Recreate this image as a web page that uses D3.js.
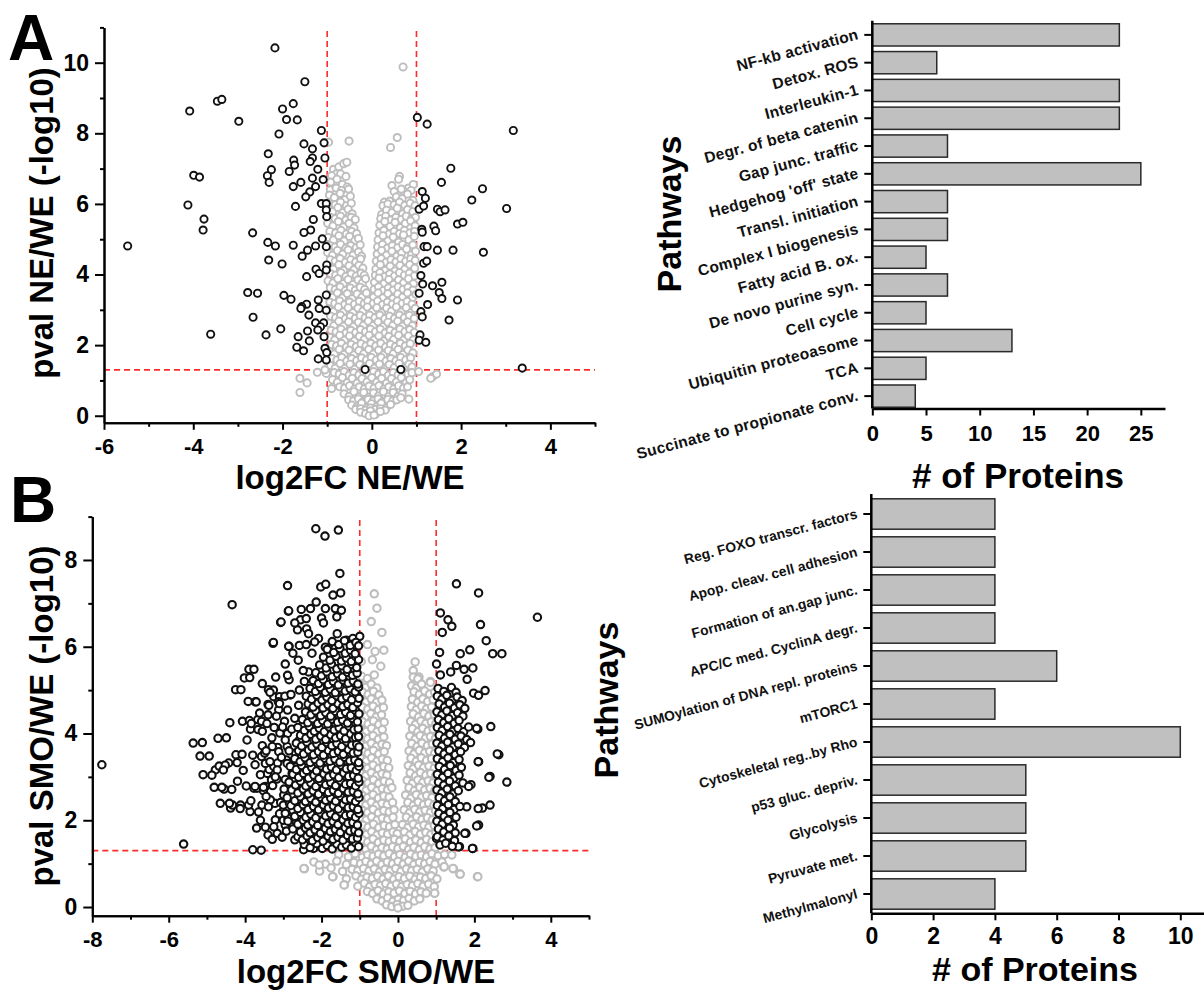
<!DOCTYPE html>
<html><head><meta charset="utf-8">
<script src="https://cdn.jsdelivr.net/npm/d3@7"></script>
<style>body{margin:0;background:#fff}svg{display:block}</style>
</head><body><svg id="c" width="1204" height="991"></svg>
<script>
// ---------- DATA ----------
const pThreshold = 1.30;   // -log10(0.05)
const fcThresholds = [-1, 1];

// Panel A volcano (log2FC NE/WE, -log10 p)
const aXTicks = [-6,-4,-2,0,2,4];
const aXMinor = [-5,-3,-1,1,3,5];
const aYTicks = [0,2,4,6,8,10];
const aYMinor = [1,3,5,7,9,11];
const aBlack = [[-2.17,10.42],[-1.50,9.46],[-3.46,8.91],[-3.36,8.96],[-4.08,8.63],[-2.98,8.34],[-2.00,8.69],[-1.76,8.84],[-1.91,8.39],[-1.67,8.38],[-1.13,8.08],[-2.08,7.98],[-1.07,7.73],[-1.52,7.70],[-1.33,7.56],[-2.32,7.42],[-1.75,7.24],[-1.05,7.30],[-1.33,7.30],[-1.38,7.20],[-1.73,7.10],[-1.21,6.98],[-1.85,6.92],[-2.25,6.97],[-2.34,6.80],[-2.30,6.61],[-3.99,6.81],[-3.86,6.76],[-1.09,6.69],[-1.33,6.73],[-1.59,6.61],[-1.76,6.49],[-1.26,6.49],[-1.39,6.34],[-1.48,6.20],[-4.12,5.97],[-1.71,5.93],[-1.13,6.01],[-1.02,6.01],[-1.02,5.83],[-3.76,5.57],[-3.78,5.26],[-1.31,5.56],[-1.01,5.64],[-2.67,5.18],[-1.37,5.26],[-1.52,5.19],[-1.11,5.01],[-2.33,4.91],[-2.16,4.81],[-1.76,4.83],[-1.26,4.81],[-1.02,4.79],[-1.44,4.69],[-1.56,4.52],[-5.47,4.81],[-2.31,4.41],[-2.01,4.30],[-1.01,4.27],[-1.25,4.15],[-1.18,4.03],[-1.02,4.13],[-1.46,3.94],[-2.78,3.49],[-2.56,3.47],[-1.97,3.41],[-1.81,3.30],[-1.02,3.42],[-1.20,3.28],[-1.46,3.16],[-1.57,3.09],[-1.59,3.04],[-1.18,3.04],[-1.02,2.99],[-1.41,2.85],[-2.66,2.79],[-1.26,2.63],[-1.08,2.63],[-1.15,2.52],[-1.21,2.43],[-2.04,2.46],[-3.61,2.31],[-2.37,2.29],[-1.65,2.24],[-1.44,2.40],[-1.40,2.12],[-1.07,2.24],[-1.68,1.94],[-1.53,1.84],[-1.05,1.91],[-1.01,1.79],[-1.20,1.61],[-1.02,1.58],[-0.15,1.31],[0.65,1.31],
[1.02,8.45],[1.24,8.26],[3.17,8.08],[1.77,7.01],[1.56,6.61],[2.48,6.43],[1.13,6.35],[1.20,6.16],[2.24,6.11],[1.06,5.85],[1.16,5.94],[1.47,5.85],[1.53,5.78],[1.64,5.83],[3.02,5.87],[1.92,5.43],[2.04,5.48],[1.12,5.28],[1.13,5.20],[1.39,5.37],[1.43,5.24],[1.17,4.79],[1.24,4.79],[1.47,4.69],[1.82,4.69],[2.50,4.63],[1.16,4.32],[1.23,4.38],[1.10,3.97],[1.14,3.73],[1.36,3.68],[1.57,3.78],[1.51,3.49],[1.57,3.32],[1.06,3.47],[1.92,3.28],[1.25,3.15],[1.10,2.95],[1.13,2.80],[1.73,2.71],[1.08,2.29],[1.06,2.14],[1.21,2.08],[3.37,1.35]];
const aGrey = [[0.70,9.88],[-0.51,7.78],[0.57,7.88],[0.42,7.60],[-0.97,7.75],
[-0.86,6.98],[-0.74,7.05],[-0.63,7.14],[-0.56,7.18],[-0.80,6.85],[-0.90,6.80],[-0.70,6.85],[-0.58,6.78],[0.62,6.78],
[-0.92,6.62],[-0.78,6.70],[-0.66,6.55],[-0.55,6.48],[0.45,6.52],[0.60,6.70],[0.82,6.45],[0.93,6.55],[0.72,6.35],
[-0.93,6.40],[-0.80,6.45],[-0.68,6.38],[-0.52,6.42],[0.50,6.35],[0.66,6.42],[0.88,6.38],
[-0.95,6.25],[-0.84,6.18],[-0.71,6.30],[-0.60,6.12],[-0.48,6.22],[0.28,6.05],[0.40,6.08],[0.55,6.20],[0.68,6.15],[0.80,6.28],[0.92,6.10],
[-0.96,6.02],[-0.82,5.98],[-0.70,6.05],[-0.57,5.95],[-0.46,6.02],[0.25,5.95],[0.36,6.00],[0.50,5.98],[0.62,6.05],[0.74,5.96],[0.86,6.02],[0.97,5.95],
[-0.98,5.85],[-0.88,5.78],[-0.76,5.90],[-0.65,5.75],[-0.53,5.85],[-0.44,5.72],[0.22,5.70],[0.33,5.82],[0.45,5.75],[0.57,5.88],[0.69,5.72],[0.80,5.84],[0.92,5.78],
[-0.93,5.62],[-0.82,5.58],[-0.70,5.65],[-0.58,5.55],[-0.46,5.62],[-0.37,5.56],[0.20,5.58],[0.31,5.65],[0.43,5.55],[0.54,5.62],[0.66,5.56],[0.77,5.65],[0.89,5.58],[0.98,5.62],
[-0.99,5.45],[-0.87,5.38],[-0.75,5.50],[-0.63,5.35],[-0.51,5.45],[-0.40,5.32],[0.18,5.40],[0.29,5.50],[0.41,5.36],[0.52,5.48],[0.64,5.33],[0.75,5.45],[0.87,5.52],[0.97,5.38],
[-0.94,5.22],[-0.81,5.18],[-0.69,5.25],[-0.57,5.15],[-0.45,5.22],[-0.34,5.16],[0.16,5.18],[0.27,5.25],[0.39,5.15],[0.50,5.22],[0.62,5.16],[0.73,5.25],[0.85,5.18],[0.96,5.22],
[-0.98,5.05],[-0.86,4.98],[-0.74,5.10],[-0.62,4.95],[-0.50,5.08],[-0.38,4.96],[-0.30,5.02],[0.14,4.98],[0.25,5.10],[0.36,4.95],[0.48,5.06],[0.60,4.92],[0.71,5.12],[0.83,4.98],[0.95,5.08],
[-0.94,4.82],[-0.82,4.78],[-0.70,4.85],[-0.58,4.75],[-0.47,4.82],[-0.35,4.76],[-0.26,4.84],[0.13,4.78],[0.24,4.85],[0.35,4.75],[0.46,4.82],[0.58,4.76],[0.69,4.85],[0.80,4.78],[0.92,4.84],
[-0.99,4.62],[-0.88,4.55],[-0.77,4.68],[-0.65,4.58],[-0.53,4.70],[-0.42,4.55],[-0.30,4.64],[-0.23,4.52],[0.12,4.58],[0.22,4.68],[0.33,4.55],[0.45,4.66],[0.56,4.52],[0.67,4.62],[0.78,4.72],[0.89,4.56],[0.98,4.66],
[-0.93,4.42],[-0.82,4.38],[-0.71,4.45],[-0.59,4.35],[-0.47,4.42],[-0.36,4.36],[-0.25,4.44],[0.10,4.38],[0.21,4.45],[0.32,4.35],[0.43,4.42],[0.54,4.36],[0.65,4.45],[0.76,4.38],[0.87,4.44],[0.97,4.40],
[-0.97,4.22],[-0.86,4.15],[-0.74,4.28],[-0.63,4.12],[-0.51,4.25],[-0.40,4.14],[-0.29,4.26],[-0.20,4.18],[0.09,4.15],[0.19,4.28],[0.30,4.12],[0.41,4.24],[0.52,4.10],[0.63,4.26],[0.74,4.15],[0.85,4.28],[0.96,4.18],
[-0.92,4.02],[-0.81,3.98],[-0.69,4.05],[-0.58,3.95],[-0.46,4.02],[-0.35,3.96],[-0.24,4.04],[-0.17,3.98],[0.08,3.98],[0.18,4.05],[0.29,3.95],[0.40,4.02],[0.51,3.96],[0.62,4.05],[0.73,3.98],[0.84,4.04],[0.95,3.96],
[-0.98,3.82],[-0.87,3.76],[-0.76,3.88],[-0.64,3.74],[-0.53,3.86],[-0.42,3.72],[-0.31,3.85],[-0.21,3.76],[-0.14,3.88],[0.06,3.78],[0.16,3.90],[0.27,3.74],[0.38,3.86],[0.49,3.72],[0.60,3.85],[0.71,3.76],[0.82,3.88],[0.93,3.74],
[-0.93,3.62],[-0.82,3.58],[-0.71,3.65],[-0.59,3.55],[-0.48,3.62],[-0.37,3.56],[-0.26,3.64],[-0.16,3.58],[0.05,3.58],[0.15,3.65],[0.26,3.55],[0.37,3.62],[0.48,3.56],[0.59,3.65],[0.70,3.58],[0.81,3.64],[0.92,3.56],
[-0.99,3.42],[-0.88,3.35],[-0.77,3.48],[-0.66,3.34],[-0.55,3.46],[-0.44,3.32],[-0.33,3.45],[-0.22,3.36],[-0.12,3.48],[0.04,3.36],[0.14,3.48],[0.25,3.34],[0.36,3.46],[0.47,3.32],[0.58,3.45],[0.69,3.36],[0.80,3.48],[0.91,3.34],[0.99,3.44],
[-0.94,3.22],[-0.83,3.18],[-0.72,3.25],[-0.61,3.15],[-0.50,3.22],[-0.39,3.16],[-0.28,3.24],[-0.17,3.18],[-0.09,3.25],[0.03,3.18],[0.13,3.25],[0.24,3.15],[0.35,3.22],[0.46,3.16],[0.57,3.25],[0.68,3.18],[0.79,3.24],[0.90,3.16],
[-0.97,3.02],[-0.86,2.95],[-0.75,3.08],[-0.64,2.94],[-0.53,3.06],[-0.42,2.92],[-0.31,3.05],[-0.20,2.96],[-0.10,3.08],[0.01,2.95],[0.11,3.06],[0.22,2.92],[0.33,3.05],[0.44,2.96],[0.55,3.08],[0.66,2.94],[0.77,3.06],[0.88,2.92],[0.97,3.04],
[-0.92,2.82],[-0.81,2.78],[-0.70,2.85],[-0.59,2.75],[-0.48,2.82],[-0.37,2.76],[-0.26,2.84],[-0.15,2.78],[-0.05,2.85],[0.07,2.78],[0.18,2.85],[0.29,2.75],[0.40,2.82],[0.51,2.76],[0.62,2.85],[0.73,2.78],[0.84,2.84],[0.95,2.76],
[-0.96,2.62],[-0.85,2.55],[-0.74,2.68],[-0.63,2.54],[-0.52,2.66],[-0.41,2.52],[-0.30,2.65],[-0.19,2.56],[-0.08,2.68],[0.03,2.55],[0.14,2.66],[0.25,2.52],[0.36,2.65],[0.47,2.56],[0.58,2.68],[0.69,2.54],[0.80,2.66],[0.91,2.55],
[-0.91,2.42],[-0.80,2.38],[-0.69,2.45],[-0.58,2.35],[-0.47,2.42],[-0.36,2.36],[-0.25,2.44],[-0.14,2.38],[-0.03,2.45],[0.08,2.38],[0.19,2.45],[0.30,2.35],[0.41,2.42],[0.52,2.36],[0.63,2.45],[0.74,2.38],[0.85,2.44],[0.95,2.36],
[-0.94,2.22],[-0.83,2.15],[-0.72,2.28],[-0.61,2.14],[-0.50,2.26],[-0.39,2.12],[-0.28,2.25],[-0.17,2.16],[-0.06,2.28],[0.05,2.15],[0.16,2.26],[0.27,2.12],[0.38,2.25],[0.49,2.16],[0.60,2.28],[0.71,2.14],[0.82,2.26],[0.93,2.15],
[-0.90,2.02],[-0.79,1.98],[-0.68,2.05],[-0.57,1.95],[-0.46,2.02],[-0.35,1.96],[-0.24,2.04],[-0.13,1.98],[-0.02,2.05],[0.09,1.98],[0.20,2.05],[0.31,1.95],[0.42,2.02],[0.53,1.96],[0.64,2.05],[0.75,1.98],[0.86,2.04],
[-0.95,1.82],[-0.84,1.75],[-0.73,1.88],[-0.62,1.74],[-0.51,1.86],[-0.40,1.72],[-0.29,1.85],[-0.18,1.76],[-0.07,1.88],[0.04,1.75],[0.15,1.86],[0.26,1.72],[0.37,1.85],[0.48,1.76],[0.59,1.88],[0.70,1.74],[0.81,1.86],[0.92,1.78],
[-0.89,1.62],[-0.78,1.58],[-0.67,1.65],[-0.56,1.55],[-0.45,1.62],[-0.34,1.56],[-0.23,1.64],[-0.12,1.58],[-0.01,1.65],[0.10,1.58],[0.21,1.65],[0.32,1.55],[0.43,1.62],[0.54,1.56],[0.65,1.65],[0.76,1.58],[0.87,1.64],
[-0.93,1.42],[-0.82,1.35],[-0.71,1.48],[-0.60,1.34],[-0.49,1.46],[-0.38,1.32],[-0.27,1.45],[-0.16,1.36],[-0.05,1.48],[0.06,1.35],[0.17,1.46],[0.28,1.32],[0.39,1.45],[0.50,1.36],[0.61,1.48],[0.72,1.34],[0.83,1.46],[0.90,1.38],
[-0.84,1.22],[-0.73,1.18],[-0.62,1.25],[-0.51,1.15],[-0.40,1.22],[-0.29,1.16],[-0.18,1.24],[-0.07,1.18],[0.04,1.25],[0.15,1.18],[0.26,1.25],[0.37,1.15],[0.48,1.22],[0.59,1.16],[0.70,1.25],[0.81,1.18],[0.90,1.22],
[-0.88,1.02],[-0.77,0.95],[-0.66,1.08],[-0.55,0.94],[-0.44,1.06],[-0.33,0.92],[-0.22,1.05],[-0.11,0.96],[0.00,1.08],[0.11,0.95],[0.22,1.06],[0.33,0.92],[0.44,1.05],[0.55,0.96],[0.66,1.08],[0.77,0.94],[0.85,1.02],
[-0.72,0.82],[-0.61,0.78],[-0.50,0.85],[-0.39,0.75],[-0.28,0.82],[-0.17,0.76],[-0.06,0.84],[0.05,0.78],[0.16,0.85],[0.27,0.75],[0.38,0.82],[0.49,0.76],[0.60,0.85],[0.71,0.78],[0.80,0.82],
[-0.62,0.62],[-0.51,0.55],[-0.40,0.68],[-0.29,0.54],[-0.18,0.66],[-0.07,0.52],[0.04,0.65],[0.15,0.56],[0.26,0.68],[0.37,0.54],[0.48,0.66],[0.59,0.55],[0.68,0.62],
[-0.52,0.45],[-0.41,0.42],[-0.30,0.48],[-0.19,0.40],[-0.08,0.46],[0.03,0.42],[0.14,0.48],[0.25,0.40],[0.36,0.46],[0.47,0.42],[0.56,0.45],
[-0.45,0.30],[-0.34,0.24],[-0.23,0.36],[-0.12,0.22],[-0.01,0.34],[0.10,0.25],[0.21,0.36],[0.32,0.22],[0.42,0.32],
[-0.36,0.18],[-0.25,0.20],[-0.14,0.16],[-0.03,0.22],[0.08,0.18],[0.19,0.20],[0.30,0.16],
[-0.25,0.10],[-0.14,0.06],[-0.03,0.14],[0.08,0.04],[0.19,0.12],[-0.06,0.00],[0.05,0.02],
[-1.61,1.06],[-1.45,0.93],[-1.61,0.66],[-1.22,1.23],[-1.02,1.20],[-0.90,0.77],[1.36,1.10],[1.45,1.18],[1.32,1.06],[0.83,0.47],[0.65,0.51],[-1.05,1.30],[1.05,1.25]];

// Panel B volcano (log2FC SMO/WE, -log10 p)
const bXTicks = [-8,-6,-4,-2,0,2,4];
const bXMinor = [-7,-5,-3,-1,1,3,5];
const bYTicks = [0,2,4,6,8];
const bYMinor = [1,3,5,7,9];
const bBlack = [[-7.75,3.28],[-5.61,1.45],[-5.36,3.78],[-5.18,3.48],[-5.10,3.05],[-4.81,2.76],[-4.78,3.16],[-4.71,3.89],[-4.68,3.25],[-4.65,2.39],[-4.55,2.72],[-4.43,3.32],[-4.38,2.28],[-4.34,6.97],[-4.33,2.35],[-4.25,5.01],[-4.24,3.51],[-4.12,2.35],[-4.07,4.28],[-4.02,5.28],[-3.97,2.79],[-3.92,4.74],[-3.90,5.48],[-3.89,4.30],[-3.87,2.20],[-3.86,4.10],[-3.80,1.32],[-3.77,2.74],[-3.74,3.28],[-3.70,1.82],[-3.69,2.74],[-3.67,4.32],[-3.62,4.47],[-3.57,4.28],[-3.57,3.47],[-3.56,2.35],[-3.55,3.72],[-3.52,2.68],[-3.49,3.55],[-3.47,2.78],[-3.42,3.08],[-3.40,1.66],[-3.39,5.01],[-3.37,3.17],[-3.31,2.93],[-3.29,1.56],[-3.27,6.08],[-3.25,4.85],[-3.25,3.24],[-3.24,4.14],[-3.22,2.39],[-3.21,2.01],[-3.17,2.95],[-3.15,3.32],[-3.15,3.68],[-3.12,4.55],[-3.10,4.85],[-3.09,4.01],[-3.07,6.56],[-3.07,2.41],[-3.02,2.20],[-2.99,2.58],[-2.97,4.28],[-2.95,1.89],[-2.92,3.39],[-2.89,7.41],[-2.87,6.82],[-2.85,6.01],[-2.85,5.24],[-2.85,2.89],[-2.82,4.89],
[-2.15,8.72],[-1.91,8.55],[-1.56,8.69],[-1.52,7.69],[-2.02,7.38],[-1.89,7.44],[-1.70,7.19],[-1.50,7.24],[-2.14,7.03],[-2.86,6.83],[-2.53,6.86],[-2.29,6.88],[-1.90,6.88],[-1.64,6.88],[-1.48,6.84],[-2.55,6.62],[-2.00,6.66],[-1.95,6.55],[-1.60,6.69],[-3.06,6.57],[-2.63,6.39],[-2.39,6.41],[-2.34,6.30],[-2.08,6.19],[-1.59,6.30],[-1.35,6.15],[-1.18,6.19],[-1.00,6.24],[-3.26,6.10],[-2.86,6.01],[-2.58,6.03],[-2.18,6.11],[-1.90,5.99],[-1.64,5.97],[-1.24,6.06],[-2.61,5.69],[-2.34,5.42],[-3.77,5.48],[-3.88,5.29],[-4.11,5.01],[-3.26,5.00],[-2.96,4.86],[-3.73,4.73],[-3.40,4.67],[-3.13,4.73],[-2.89,5.34],[-2.58,5.00],[-2.80,4.90],
[-3.71,4.73],[-3.38,4.65],[-3.10,4.69],[-2.89,4.54],[-3.84,4.23],[-3.66,4.09],[-3.43,4.23],[-5.12,3.79],[-4.49,3.90],[-4.94,3.48],[-4.08,3.52],[-4.21,3.33],[-4.52,3.27],[-4.57,3.16],[-4.87,3.04],[-3.47,3.31],[-3.16,3.16],[-2.90,3.31],[-3.29,3.70],[-3.12,3.58],[-2.90,3.70],[-4.61,2.76],[-4.35,2.71],[-3.74,2.78],[-3.52,2.76],[-3.21,3.00],[-2.95,2.94],[-4.41,2.39],[-4.13,2.27],[-3.91,2.35],[-3.65,2.19],[-3.34,2.47],[-3.39,2.31],[-3.00,2.35],[-3.47,1.84],[-3.16,1.70],[-3.03,1.61],[-3.58,1.31],[-2.47,1.32],[-2.21,1.35],[-2.89,4.00],[-3.40,4.43],[-2.58,3.85],[-2.71,3.39],[-2.77,3.08],[-2.84,2.39],[-2.75,2.23],[-2.66,1.96],[-2.58,1.81],[-2.41,1.62],[-3.00,2.00],
[-3.35,4.95],[-3.18,4.40],[-3.02,4.15],[-2.95,3.85],[-3.30,3.90],[-3.45,3.60],[-3.05,3.45],[-2.68,3.55],[-2.72,2.95],[-2.62,2.48],[-2.98,2.72],[-3.28,2.80],[-3.45,2.55],[-3.10,2.15],[-2.88,2.05],[-3.25,1.85],[-2.92,1.75],[-2.70,1.55],[-3.55,4.05],[-3.20,5.30],[-2.95,5.60],[-2.75,5.85],[-2.48,5.45],[-2.45,5.20],[-2.60,4.65],[-2.70,4.35],[-2.78,4.10],[-2.85,3.60],[-3.35,3.35],[-3.60,3.05],[-3.80,3.50],[-3.95,3.85],[-4.05,3.15],[-3.85,2.45],[-3.60,2.00],[-4.20,2.90],[-4.40,4.25],[-3.55,5.15],[-2.70,6.55],[-2.40,6.65],[-2.25,5.85],[-2.40,6.05],
[-2.45,1.44],[-2.30,1.37],[-2.12,1.46],[-1.98,1.35],[-1.85,1.42],[-1.72,1.34],[-1.60,1.45],[-1.47,1.38],[-1.35,1.43],[-1.22,1.36],[-1.10,1.47],[-1.03,1.39],
[-2.62,1.62],[-2.50,1.55],[-2.38,1.64],[-2.24,1.53],[-2.10,1.60],[-1.96,1.52],[-1.83,1.63],[-1.70,1.56],[-1.57,1.61],[-1.44,1.54],[-1.32,1.65],[-1.19,1.57],[-1.06,1.59],
[-2.75,1.80],[-2.55,1.73],[-2.42,1.82],[-2.30,1.71],[-2.17,1.78],[-2.03,1.70],[-1.90,1.81],[-1.77,1.74],[-1.64,1.79],[-1.51,1.72],[-1.38,1.83],[-1.26,1.75],[-1.13,1.77],[-1.03,1.71],
[-2.88,1.98],[-2.62,1.91],[-2.48,2.00],[-2.36,1.89],[-2.23,1.96],[-2.10,1.88],[-1.96,1.99],[-1.83,1.92],[-1.70,1.97],[-1.57,1.90],[-1.44,2.01],[-1.31,1.93],[-1.18,1.95],[-1.06,1.89],
[-2.95,2.16],[-2.70,2.09],[-2.55,2.18],[-2.41,2.07],[-2.28,2.14],[-2.15,2.06],[-2.02,2.17],[-1.89,2.10],[-1.76,2.15],[-1.63,2.08],[-1.50,2.19],[-1.37,2.11],[-1.24,2.13],[-1.11,2.07],[-1.02,2.16],
[-2.80,2.34],[-2.62,2.27],[-2.48,2.36],[-2.35,2.25],[-2.21,2.32],[-2.08,2.24],[-1.95,2.35],[-1.82,2.28],[-1.69,2.33],[-1.56,2.26],[-1.43,2.37],[-1.30,2.29],[-1.17,2.31],[-1.05,2.25],
[-2.90,2.52],[-2.70,2.45],[-2.55,2.54],[-2.42,2.43],[-2.28,2.50],[-2.15,2.42],[-2.02,2.53],[-1.89,2.46],[-1.76,2.51],[-1.63,2.44],[-1.50,2.55],[-1.37,2.47],[-1.24,2.49],[-1.11,2.43],[-1.02,2.52],
[-2.78,2.70],[-2.62,2.63],[-2.48,2.72],[-2.35,2.61],[-2.22,2.68],[-2.08,2.60],[-1.95,2.71],[-1.82,2.64],[-1.69,2.69],[-1.56,2.62],[-1.43,2.73],[-1.30,2.65],[-1.17,2.67],[-1.05,2.61],
[-2.85,2.88],[-2.68,2.81],[-2.55,2.90],[-2.41,2.79],[-2.28,2.86],[-2.15,2.78],[-2.02,2.89],[-1.89,2.82],[-1.76,2.87],[-1.63,2.80],[-1.50,2.91],[-1.37,2.83],[-1.24,2.85],[-1.11,2.79],[-1.02,2.88],
[-2.75,3.06],[-2.60,2.99],[-2.47,3.08],[-2.34,2.97],[-2.20,3.04],[-2.07,2.96],[-1.94,3.07],[-1.81,3.00],[-1.68,3.05],[-1.55,2.98],[-1.42,3.09],[-1.29,3.01],[-1.16,3.03],[-1.04,2.97],
[-2.82,3.24],[-2.66,3.17],[-2.52,3.26],[-2.39,3.15],[-2.26,3.22],[-2.13,3.14],[-2.00,3.25],[-1.87,3.18],[-1.74,3.23],[-1.61,3.16],[-1.48,3.27],[-1.35,3.19],[-1.22,3.21],[-1.09,3.15],[-1.02,3.24],
[-2.70,3.42],[-2.56,3.35],[-2.43,3.44],[-2.30,3.33],[-2.17,3.40],[-2.04,3.32],[-1.91,3.43],[-1.78,3.36],[-1.65,3.41],[-1.52,3.34],[-1.39,3.45],[-1.26,3.37],[-1.13,3.39],[-1.03,3.33],
[-2.60,3.60],[-2.47,3.53],[-2.34,3.62],[-2.21,3.51],[-2.08,3.58],[-1.95,3.50],[-1.82,3.61],[-1.69,3.54],[-1.56,3.59],[-1.43,3.52],[-1.30,3.63],[-1.17,3.55],[-1.05,3.57],
[-2.66,3.78],[-2.52,3.71],[-2.38,3.80],[-2.25,3.69],[-2.12,3.76],[-1.99,3.68],[-1.86,3.79],[-1.73,3.72],[-1.60,3.77],[-1.47,3.70],[-1.34,3.81],[-1.21,3.73],[-1.08,3.75],[-1.02,3.69],
[-2.55,3.96],[-2.41,3.89],[-2.28,3.98],[-2.15,3.87],[-2.02,3.94],[-1.89,3.86],[-1.76,3.97],[-1.63,3.90],[-1.50,3.95],[-1.37,3.88],[-1.24,3.99],[-1.11,3.91],[-1.03,3.93],
[-2.62,4.14],[-2.45,4.07],[-2.32,4.16],[-2.19,4.05],[-2.06,4.12],[-1.93,4.04],[-1.80,4.15],[-1.67,4.08],[-1.54,4.13],[-1.41,4.06],[-1.28,4.17],[-1.15,4.09],[-1.04,4.11],
[-2.50,4.32],[-2.36,4.25],[-2.23,4.34],[-2.10,4.23],[-1.97,4.30],[-1.84,4.22],[-1.71,4.33],[-1.58,4.26],[-1.45,4.31],[-1.32,4.24],[-1.19,4.35],[-1.06,4.27],
[-2.42,4.50],[-2.28,4.43],[-2.15,4.52],[-2.02,4.41],[-1.89,4.48],[-1.76,4.40],[-1.63,4.51],[-1.50,4.44],[-1.37,4.49],[-1.24,4.42],[-1.11,4.53],[-1.02,4.45],
[-2.35,4.68],[-2.22,4.61],[-2.09,4.70],[-1.96,4.59],[-1.83,4.66],[-1.70,4.58],[-1.57,4.69],[-1.44,4.62],[-1.31,4.67],[-1.18,4.60],[-1.06,4.71],
[-2.40,4.86],[-2.26,4.79],[-2.12,4.88],[-1.99,4.77],[-1.86,4.84],[-1.73,4.76],[-1.60,4.87],[-1.47,4.80],[-1.34,4.85],[-1.21,4.78],[-1.08,4.89],[-1.02,4.81],
[-2.30,5.04],[-2.16,4.97],[-2.03,5.06],[-1.90,4.95],[-1.77,5.02],[-1.64,4.94],[-1.51,5.05],[-1.38,4.98],[-1.25,5.03],[-1.12,4.96],[-1.03,5.07],
[-2.22,5.22],[-2.08,5.15],[-1.95,5.24],[-1.82,5.13],[-1.69,5.20],[-1.56,5.12],[-1.43,5.23],[-1.30,5.16],[-1.17,5.21],[-1.05,5.14],
[-2.15,5.40],[-2.00,5.33],[-1.86,5.42],[-1.72,5.31],[-1.58,5.38],[-1.45,5.30],[-1.32,5.41],[-1.19,5.34],[-1.07,5.39],
[-2.05,5.58],[-1.88,5.51],[-1.74,5.60],[-1.60,5.49],[-1.47,5.56],[-1.33,5.48],[-1.20,5.59],[-1.08,5.52],
[-1.95,5.76],[-1.78,5.69],[-1.62,5.78],[-1.48,5.67],[-1.35,5.74],[-1.22,5.66],[-1.10,5.77],[-1.03,5.70],
[-1.85,5.94],[-1.68,5.87],[-1.52,5.96],[-1.38,5.85],[-1.24,5.92],[-1.12,5.84],
[-1.72,6.12],[-1.55,6.05],[-1.40,6.14],[-1.25,6.03],[-1.10,6.10],[-1.03,6.02],
[1.11,6.78],[1.31,6.62],[1.41,6.47],[1.16,6.33],[2.11,7.24],[1.53,7.45],[2.16,6.51],[2.31,6.14],[2.48,5.84],[2.72,5.84],[3.65,6.68],[1.09,5.87],[1.63,5.84],[1.88,5.93],[1.01,5.60],[1.38,5.42],[1.53,5.57],[1.73,5.48],[1.96,5.51],[1.81,5.25],[1.11,5.35],[1.98,4.93],[2.11,4.88],[2.28,4.99],[2.09,4.10],[2.43,4.16],[2.11,3.35],[2.64,3.51],[2.41,3.01],[2.85,2.88],[1.91,2.82],[2.21,2.28],[2.41,2.35],[2.11,1.89],[1.78,1.70],[1.96,1.35],[1.61,1.39],[1.26,1.51],[1.01,1.58],[2.06,4.12],[2.60,3.53],[2.10,3.35],[2.38,2.99],[1.80,2.31],[2.10,2.27],[2.06,1.87],[1.75,1.70],[1.58,1.39],[1.95,1.35],
[1.05,5.04],[1.20,4.97],[1.40,5.06],[1.52,4.95],
[1.03,4.86],[1.15,4.79],[1.28,4.88],[1.42,4.77],[1.55,4.84],[1.68,4.76],
[1.08,4.68],[1.22,4.61],[1.35,4.70],[1.48,4.59],[1.62,4.66],[1.75,4.58],
[1.02,4.50],[1.15,4.43],[1.28,4.52],[1.42,4.41],[1.56,4.48],[1.70,4.40],
[1.06,4.32],[1.20,4.25],[1.33,4.34],[1.47,4.23],[1.60,4.30],
[1.03,4.14],[1.16,4.07],[1.30,4.16],[1.43,4.05],[1.57,4.12],[1.72,4.04],[1.85,4.15],
[1.08,3.96],[1.22,3.89],[1.36,3.98],[1.50,3.87],[1.65,3.94],[1.80,3.86],
[1.02,3.78],[1.15,3.71],[1.30,3.80],[1.44,3.69],[1.58,3.76],[1.74,3.68],[1.90,3.79],
[1.07,3.60],[1.21,3.53],[1.35,3.62],[1.50,3.51],[1.64,3.58],
[1.03,3.42],[1.17,3.35],[1.31,3.44],[1.45,3.33],[1.60,3.40],
[1.08,3.24],[1.22,3.17],[1.37,3.26],[1.52,3.15],[1.66,3.22],
[1.03,3.06],[1.17,2.99],[1.31,3.08],[1.46,2.97],[1.60,3.04],
[1.06,2.88],[1.20,2.81],[1.35,2.90],[1.50,2.79],[1.70,2.86],[1.85,2.78],
[1.02,2.70],[1.15,2.63],[1.29,2.72],[1.44,2.61],[1.58,2.68],
[1.08,2.52],[1.22,2.45],[1.36,2.54],[1.50,2.43],
[1.03,2.34],[1.17,2.27],[1.32,2.36],[1.47,2.25],[1.62,2.32],
[1.07,2.16],[1.21,2.09],[1.36,2.18],[1.52,2.07],
[1.02,1.98],[1.16,1.91],[1.31,2.00],[1.45,1.89],
[1.06,1.80],[1.20,1.73],[1.35,1.82],[1.50,1.71],
[1.03,1.62],[1.18,1.55],[1.33,1.64],[1.48,1.53],
[1.10,1.43],[1.25,1.47],[1.42,1.40]];
const bGrey = [[-0.62,7.22],[-0.55,6.89],[-0.70,6.58],[-0.42,6.33],[-0.80,6.05],[-0.60,5.89],[-0.37,5.92],[-0.67,5.70],[-0.96,5.66],[-0.45,5.55],[0.45,5.65],[0.40,5.45],[0.55,5.30],[0.85,5.20],
[-0.95,5.32],[-0.80,5.27],[-0.62,5.35],[0.40,5.30],[0.52,5.26],
[-0.98,5.12],[-0.85,5.06],[-0.70,5.14],[-0.55,5.05],[0.36,5.10],[0.48,5.05],[0.62,5.14],[0.85,5.18],
[-0.92,4.95],[-0.78,4.90],[-0.64,4.97],[-0.50,4.89],[0.42,4.96],[0.56,4.90],[0.70,4.98],[0.83,4.91],[0.96,4.95],
[-0.97,4.78],[-0.84,4.73],[-0.70,4.80],[-0.56,4.72],[-0.42,4.77],[0.38,4.79],[0.52,4.72],[0.65,4.80],[0.78,4.74],[0.92,4.78],
[-0.93,4.61],[-0.79,4.56],[-0.65,4.63],[-0.51,4.55],[-0.38,4.60],[0.35,4.62],[0.48,4.55],[0.62,4.63],[0.75,4.57],[0.88,4.61],
[-0.98,4.44],[-0.85,4.39],[-0.71,4.46],[-0.57,4.38],[-0.43,4.43],[0.40,4.45],[0.54,4.38],[0.68,4.46],[0.81,4.40],[0.95,4.44],
[-0.92,4.27],[-0.78,4.22],[-0.64,4.29],[-0.50,4.21],[-0.36,4.26],[0.33,4.28],[0.46,4.21],[0.60,4.29],[0.73,4.23],[0.87,4.27],[0.99,4.22],
[-0.97,4.10],[-0.83,4.05],[-0.69,4.12],[-0.55,4.04],[-0.41,4.09],[0.38,4.11],[0.52,4.04],[0.65,4.12],[0.79,4.06],[0.92,4.10],
[-0.93,3.93],[-0.79,3.88],[-0.65,3.95],[-0.51,3.87],[-0.37,3.92],[0.31,3.94],[0.45,3.87],[0.58,3.95],[0.72,3.89],[0.85,3.93],[0.98,3.88],
[-0.98,3.76],[-0.84,3.71],[-0.70,3.78],[-0.56,3.70],[-0.42,3.75],[-0.30,3.72],[0.36,3.77],[0.50,3.70],[0.63,3.78],[0.77,3.72],[0.90,3.76],
[-0.92,3.59],[-0.78,3.54],[-0.64,3.61],[-0.50,3.53],[-0.36,3.58],[0.29,3.60],[0.42,3.53],[0.56,3.61],[0.70,3.55],[0.83,3.59],[0.96,3.54],
[-0.97,3.42],[-0.83,3.37],[-0.69,3.44],[-0.55,3.36],[-0.41,3.41],[-0.28,3.38],[0.34,3.43],[0.48,3.36],[0.61,3.44],[0.75,3.38],[0.88,3.42],
[-0.93,3.25],[-0.79,3.20],[-0.65,3.27],[-0.51,3.19],[-0.37,3.24],[-0.24,3.21],[0.27,3.26],[0.40,3.19],[0.54,3.27],[0.67,3.21],[0.81,3.25],[0.95,3.20],
[-0.98,3.08],[-0.84,3.03],[-0.70,3.10],[-0.56,3.02],[-0.42,3.07],[-0.29,3.04],[0.32,3.09],[0.46,3.02],[0.59,3.10],[0.73,3.04],[0.86,3.08],[0.99,3.03],
[-0.92,2.91],[-0.78,2.86],[-0.64,2.93],[-0.50,2.85],[-0.36,2.90],[-0.22,2.87],[0.24,2.92],[0.38,2.85],[0.52,2.93],[0.65,2.87],[0.79,2.91],[0.92,2.86],
[-0.97,2.74],[-0.83,2.69],[-0.69,2.76],[-0.55,2.68],[-0.41,2.73],[-0.27,2.70],[-0.16,2.75],[0.29,2.75],[0.43,2.68],[0.57,2.76],[0.70,2.70],[0.84,2.74],[0.97,2.69],
[-0.93,2.57],[-0.79,2.52],[-0.65,2.59],[-0.51,2.51],[-0.37,2.56],[-0.23,2.53],[0.20,2.58],[0.34,2.51],[0.48,2.59],[0.62,2.53],[0.75,2.57],[0.89,2.52],
[-0.98,2.40],[-0.84,2.35],[-0.70,2.42],[-0.56,2.34],[-0.42,2.39],[-0.28,2.36],[-0.14,2.41],[0.26,2.41],[0.40,2.34],[0.53,2.42],[0.67,2.36],[0.80,2.40],[0.94,2.35],
[-0.93,2.23],[-0.79,2.18],[-0.65,2.25],[-0.51,2.17],[-0.37,2.22],[-0.23,2.19],[-0.10,2.24],[0.16,2.24],[0.30,2.17],[0.44,2.25],[0.57,2.19],[0.71,2.23],[0.85,2.18],[0.98,2.22],
[-0.97,2.06],[-0.83,2.01],[-0.69,2.08],[-0.55,2.00],[-0.41,2.05],[-0.27,2.02],[-0.13,2.07],[0.22,2.07],[0.36,2.00],[0.49,2.08],[0.63,2.02],[0.77,2.06],[0.90,2.01],
[-0.92,1.89],[-0.78,1.84],[-0.64,1.91],[-0.50,1.83],[-0.36,1.88],[-0.22,1.85],[-0.08,1.90],[0.12,1.90],[0.26,1.83],[0.40,1.91],[0.54,1.85],[0.68,1.89],[0.81,1.84],[0.95,1.88],
[-0.97,1.72],[-0.83,1.67],[-0.69,1.74],[-0.55,1.66],[-0.41,1.71],[-0.27,1.68],[-0.13,1.73],[-0.02,1.69],[0.17,1.73],[0.31,1.66],[0.45,1.74],[0.59,1.68],[0.73,1.72],[0.86,1.67],[0.99,1.71],
[-0.93,1.55],[-0.79,1.50],[-0.65,1.57],[-0.51,1.49],[-0.37,1.54],[-0.23,1.51],[-0.09,1.56],[0.05,1.52],[0.19,1.57],[0.33,1.50],[0.47,1.55],[0.61,1.49],[0.75,1.56],[0.89,1.51],
[-0.98,1.38],[-0.84,1.33],[-0.70,1.40],[-0.56,1.32],[-0.42,1.37],[-0.28,1.34],[-0.14,1.39],[0.00,1.35],[0.14,1.40],[0.28,1.33],[0.42,1.38],[0.56,1.32],[0.70,1.39],[0.84,1.34],[0.97,1.37],
[-1.55,1.21],[-1.30,1.16],[-1.12,1.23],[-0.93,1.15],[-0.79,1.20],[-0.65,1.17],[-0.51,1.22],[-0.37,1.18],[-0.23,1.23],[-0.09,1.16],[0.05,1.21],[0.19,1.15],[0.33,1.22],[0.47,1.17],[0.61,1.20],[0.75,1.16],[0.89,1.23],[1.05,1.18],[1.22,1.21],
[-2.20,1.04],[-1.90,0.99],[-1.60,1.06],[-1.35,0.98],[-1.15,1.03],[-0.98,1.00],[-0.84,1.05],[-0.70,0.99],[-0.56,1.06],[-0.42,0.98],[-0.28,1.04],[-0.14,1.00],[0.00,1.05],[0.14,0.99],[0.28,1.06],[0.42,0.98],[0.56,1.03],[0.70,1.00],[0.84,1.05],[0.97,0.99],[1.15,1.04],
[-2.45,0.88],[-2.05,0.83],[-1.75,0.90],[-1.45,0.82],[-1.20,0.87],[-1.05,0.84],[-0.90,0.89],[-0.76,0.83],[-0.62,0.88],[-0.48,0.81],[-0.34,0.87],[-0.20,0.83],[-0.06,0.89],[0.08,0.82],[0.22,0.88],[0.36,0.84],[0.50,0.87],[0.64,0.81],[0.78,0.88],[0.92,0.83],[1.20,0.92],[1.45,0.88],
[-1.70,0.70],[-1.35,0.65],[-1.10,0.72],[-0.95,0.64],[-0.81,0.69],[-0.67,0.66],[-0.53,0.71],[-0.39,0.65],[-0.25,0.72],[-0.11,0.64],[0.03,0.70],[0.17,0.66],[0.31,0.71],[0.45,0.64],[0.59,0.69],[0.73,0.66],[0.87,0.72],[1.02,0.65],[1.62,0.76],[2.08,0.70],
[-1.40,0.51],[-1.05,0.48],[-0.88,0.55],[-0.74,0.47],[-0.60,0.52],[-0.46,0.49],[-0.32,0.54],[-0.18,0.48],[-0.04,0.53],[0.10,0.47],[0.24,0.52],[0.38,0.49],[0.52,0.54],[0.66,0.48],[0.80,0.53],[0.95,0.47],
[-0.80,0.36],[-0.66,0.31],[-0.52,0.38],[-0.38,0.30],[-0.24,0.35],[-0.10,0.32],[0.04,0.37],[0.18,0.31],[0.32,0.36],[0.46,0.30],[0.60,0.35],[0.74,0.32],[0.96,0.32],
[-0.55,0.19],[-0.41,0.14],[-0.27,0.21],[-0.13,0.13],[0.01,0.18],[0.15,0.15],[0.29,0.20],[0.43,0.14],[0.57,0.19],
[-0.30,0.05],[-0.16,0.01],[-0.02,0.06],[0.12,0.02],[0.26,0.04],[0.00,-0.02],
[-2.46,0.89],[-2.06,0.97],[-1.71,0.70],[-1.41,0.51],[0.96,0.32],[1.21,0.93],[1.44,0.89],[1.63,0.76],[2.09,0.70],[1.41,1.20]];

// Bar charts
const aPathways = ["NF-kb activation","Detox. ROS","Interleukin-1","Degr. of beta catenin","Gap junc. traffic","Hedgehog 'off' state","Transl. initiation","Complex I biogenesis","Fatty acid B. ox.","De novo purine syn.","Cell cycle","Ubiquitin proteoasome","TCA","Succinate to propionate conv."];
const aCounts = [23,6,23,23,7,25,7,7,5,7,5,13,5,4];
const aBarTicks = [0,5,10,15,20,25];
const bPathways = ["Reg. FOXO transcr. factors","Apop. cleav. cell adhesion","Formation of an.gap junc.","APC/C med. CyclinA degr.","SUMOylation of DNA repl. proteins","mTORC1","Cytoskeletal reg..by Rho","p53 gluc. depriv.","Glycolysis","Pyruvate met.","Methylmalonyl"];
const bCounts = [4,4,4,4,6,4,10,5,5,5,4];
const bBarTicks = [0,2,4,6,8,10];

// ---------- DRAWING ----------
const FONT = '"Liberation Sans", Arial, Helvetica, sans-serif';
const svg = d3.select("#c");
svg.append("rect").attr("width",1204).attr("height",991).attr("fill","#fff");

function styleAxis(g, fs){
  g.attr("font-family",FONT).attr("font-size",fs).attr("font-weight","bold");
  g.select(".domain").attr("stroke","#000").attr("stroke-width",2);
  g.selectAll(".tick line").attr("stroke","#000").attr("stroke-width",2);
  g.selectAll(".tick text").attr("fill","#000");
}
function label(txt, x, y, fs, rot){
  const t = svg.append("text").text(txt).attr("font-family",FONT).attr("font-weight","bold")
    .attr("font-size",fs).attr("text-anchor","middle").attr("fill","#000");
  if (rot) t.attr("transform",`translate(${x},${y}) rotate(${rot})`);
  else t.attr("x",x).attr("y",y);
  return t;
}

function volcano(o){
  const x = d3.scaleLinear().domain(o.xd).range(o.xr);
  const y = d3.scaleLinear().domain(o.yd).range(o.yr);
  const g = svg.append("g");
  const red = "#ff2a2a";
  fcThresholds.forEach(v => g.append("line").attr("x1",x(v)).attr("x2",x(v))
    .attr("y1",o.vTop).attr("y2",y(o.yd[0])).attr("stroke",red).attr("stroke-width",1.6).attr("stroke-dasharray","6,4"));
  g.append("line").attr("x1",x(o.xd[0])).attr("x2",x(o.xd[1])).attr("y1",y(pThreshold)).attr("y2",y(pThreshold))
    .attr("stroke",red).attr("stroke-width",1.6).attr("stroke-dasharray","6,4");
  g.append("g").selectAll("circle").data(o.grey).join("circle")
    .attr("cx",d=>x(d[0])).attr("cy",d=>y(d[1])).attr("r",o.r)
    .attr("fill","#fff").attr("stroke","#bdbdbd").attr("stroke-width",o.sw);
  g.append("g").selectAll("circle").data(o.black).join("circle")
    .attr("cx",d=>x(d[0])).attr("cy",d=>y(d[1])).attr("r",o.r)
    .attr("fill","#fff").attr("stroke","#111").attr("stroke-width",o.sw);
  const y0 = y(o.yd[0]), x0 = x(o.xd[0]);
  const xm = g.append("g").attr("transform",`translate(0,${y0})`)
    .call(d3.axisBottom(x).tickValues(o.xMinor).tickSize(4).tickSizeOuter(0).tickFormat(()=>""));
  styleAxis(xm,22);
  const xa = g.append("g").attr("transform",`translate(0,${y0})`)
    .call(d3.axisBottom(x).tickValues(o.xTicks).tickSize(7).tickPadding(9).tickSizeOuter(0).tickFormat(d=>String(d)));
  styleAxis(xa,22);
  const ym = g.append("g").attr("transform",`translate(${x0},0)`)
    .call(d3.axisLeft(y).tickValues(o.yMinor).tickSize(4).tickSizeOuter(0).tickFormat(()=>""));
  styleAxis(ym,23);
  const ya = g.append("g").attr("transform",`translate(${x0},0)`)
    .call(d3.axisLeft(y).tickValues(o.yTicks).tickSize(9).tickPadding(6).tickSizeOuter(0).tickFormat(d=>String(d)));
  styleAxis(ya,23);
}

volcano({xd:[-6,5], xr:[104,595], yd:[-0.2,11], yr:[422.8,27.4], vTop:31, r:3.6, sw:1.9,
  grey:aGrey, black:aBlack, xTicks:aXTicks, xMinor:aXMinor, yTicks:aYTicks, yMinor:aYMinor});
volcano({xd:[-8,5], xr:[92.3,589], yd:[-0.2,9], yr:[915.7,516.6], vTop:520, r:3.7, sw:2.1,
  grey:bGrey, black:bBlack, xTicks:bXTicks, xMinor:bXMinor, yTicks:bYTicks, yMinor:bYMinor});

function bars(o){
  const x = d3.scaleLinear().domain([0,o.xmax]).range([o.x0,o.x1]);
  const y = d3.scaleBand().domain(o.cats).range([o.y0,o.y1]).paddingInner(0.2).paddingOuter(0.1);
  const g = svg.append("g");
  g.selectAll("rect").data(o.cats).join("rect")
    .attr("x",x(0)).attr("y",d=>y(d)).attr("width",(d,i)=>x(o.vals[i])-x(0)).attr("height",y.bandwidth())
    .attr("fill","#c0c0c0").attr("stroke","#2a2a2a").attr("stroke-width",1.5);
  g.append("line").attr("x1",o.x0).attr("x2",o.x0).attr("y1",o.axTop).attr("y2",o.axBot)
    .attr("stroke","#000").attr("stroke-width",2.5);
  g.selectAll("line.tk").data(o.cats).join("line").attr("class","tk")
    .attr("x1",o.x0-8).attr("x2",o.x0).attr("y1",d=>y(d)+y.bandwidth()/2).attr("y2",d=>y(d)+y.bandwidth()/2)
    .attr("stroke","#000").attr("stroke-width",2);
  g.selectAll("text.cat").data(o.cats).join("text").attr("class","cat")
    .text(d=>d).attr("font-family",FONT).attr("font-weight","bold").attr("font-size",o.lfs)
    .attr("letter-spacing",o.ls).attr("text-anchor","end").attr("fill","#111")
    .attr("transform",d=>`translate(${o.x0-13},${y(d)+y.bandwidth()/2+4}) rotate(-15)`);
  const xa = g.append("g").attr("transform",`translate(0,${o.axBot})`)
    .call(d3.axisBottom(x).tickValues(o.ticks).tickSize(7).tickPadding(o.tp).tickSizeOuter(0).tickFormat(d=>String(d)));
  styleAxis(xa,o.tfs);
  xa.select(".domain").attr("stroke-width",2.5);
}

bars({cats:aPathways, vals:aCounts, ticks:aBarTicks, xmax:27.25, x0:872.3, x1:1165, y0:21, y1:410,
  axTop:20.7, axBot:408.5, lfs:15.5, ls:0.3, tfs:22, tp:10});
bars({cats:bPathways, vals:bCounts, ticks:bBarTicks, xmax:10.78, x0:871.3, x1:1204.4, y0:495, y1:913,
  axTop:494, axBot:913.3, lfs:13.8, ls:0.1, tfs:23, tp:7});

// titles
label("A", 31, 60, 64);
label("B", 33, 522, 64);
label("pval NE/WE (-log10)", 53, 223, 33, -90);
label("log2FC NE/WE", 350, 489, 33);
label("pval SMO/WE (-log10)", 53, 716, 33, -90);
label("log2FC SMO/WE", 366, 983, 33);
label("Pathways", 681, 214, 34, -90);
label("# of Proteins", 1018, 488, 35);
label("Pathways", 618, 700, 34, -90);
label("# of Proteins", 1035, 981, 34);
</script>
</body></html>
